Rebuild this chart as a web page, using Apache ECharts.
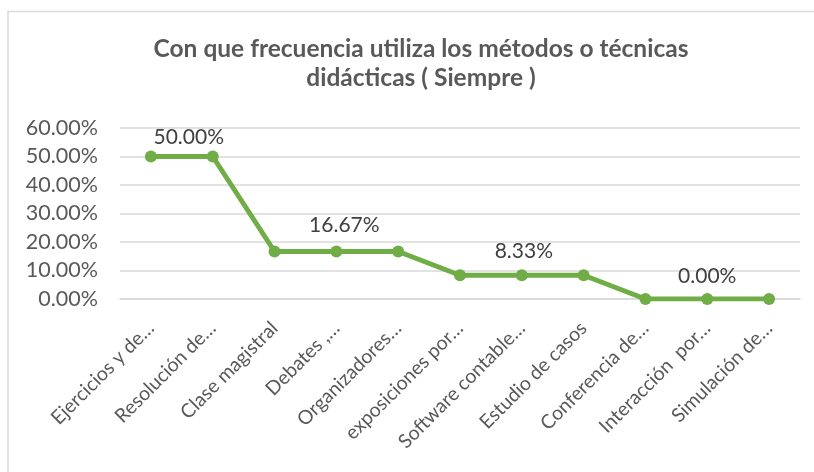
<!DOCTYPE html>
<html>
<head>
<meta charset="utf-8">
<script src="https://cdn.jsdelivr.net/npm/echarts@6/dist/echarts.min.js"></script>
<style>
  html, body { margin: 0; padding: 0; background: #fff; }
  #chart { width: 814px; height: 472px; }
</style>
</head>
<body>
<div id="chart"></div>
<script>
// categorias y valores
var categorias = ['Ejercicios y de…', 'Resolución de…', 'Clase magistral', 'Debates ,…', 'Organizadores…',
    'exposiciones por…', 'Software contable…', 'Estudio de casos', 'Conferencia de…', 'Interacción  por…', 'Simulación de…'];
var valores = [0.5, 0.5, 0.1667, 0.1667, 0.1667, 0.0833, 0.0833, 0.0833, 0, 0, 0];
// puntos que muestran etiqueta y su desplazamiento
var etiquetas = { 1: [-24, 3], 3: [8, -4], 6: [2, -2], 9: [0, 0] };

var myChart = echarts.init(document.getElementById('chart'));

var datos = valores.map(function (v, i) {
    if (etiquetas.hasOwnProperty(i)) {
        return { value: v, label: { show: true, offset: etiquetas[i] } };
    }
    return v;
});

var option = {
    backgroundColor: '#fff',
    textStyle: { fontFamily: 'Lato' },
    title: {
        text: 'Con que frecuencia utiliza los métodos o técnicas\ndidácticas ( Siempre )',
        left: 416,
        top: 30,
        textAlign: 'center',
        textStyle: {
            fontFamily: 'Lato',
            fontSize: 24.5,
            fontWeight: 'bold',
            color: '#595959',
            lineHeight: 29
        }
    },
    graphic: [{
        type: 'rect',
        shape: { x: 8, y: 11.5, width: 900, height: 600 },
        style: { fill: 'none', stroke: '#d9d9d9', lineWidth: 1.5 },
        silent: true
    }],
    grid: {
        left: 120,
        right: 14,
        top: 128,
        bottom: 173
    },
    xAxis: {
        type: 'category',
        data: categorias,
        boundaryGap: true,
        axisLine: { show: true, lineStyle: { color: '#d9d9d9', width: 1.5 } },
        axisTick: { show: false },
        axisLabel: {
            rotate: 45,
            interval: 0,
            margin: 26,
            color: '#595959',
            fontSize: 19.5,
            fontFamily: 'Lato'
        }
    },
    yAxis: {
        type: 'value',
        min: 0,
        max: 0.6,
        interval: 0.1,
        axisLine: { show: false },
        axisTick: { show: false },
        splitLine: { lineStyle: { color: '#d9d9d9', width: 1.5 } },
        axisLabel: {
            margin: 22,
            color: '#595959',
            fontSize: 21.5,
            fontFamily: 'Lato',
            formatter: function (v) { return (v * 100).toFixed(2) + '%'; }
        }
    },
    series: [{
        type: 'line',
        data: datos,
        symbol: 'circle',
        symbolSize: 12,
        lineStyle: { color: '#70ad47', width: 5 },
        itemStyle: { color: '#70ad47' },
        label: {
            show: false,
            position: 'top',
            distance: 6,
            color: '#404040',
            fontSize: 21,
            fontFamily: 'Lato',
            formatter: function (p) { return (p.value * 100).toFixed(2) + '%'; }
        },
        animation: false
    }]
};

myChart.setOption(option);
window.addEventListener('resize', function () {
    myChart.resize();
});
</script>
</body>
</html>
